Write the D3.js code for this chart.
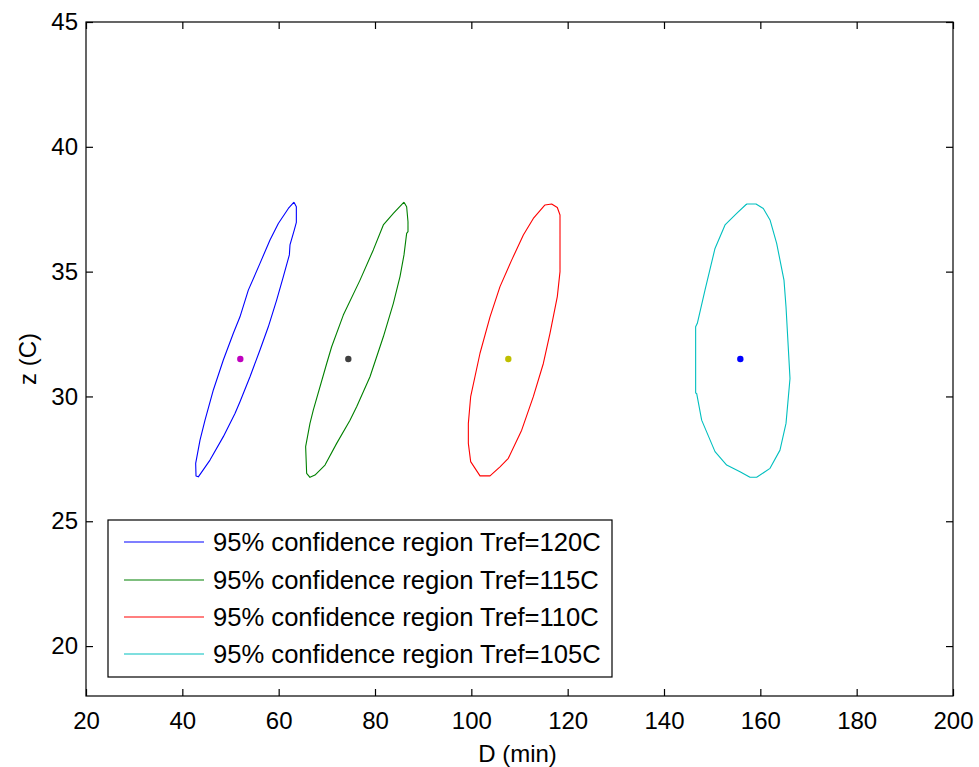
<!DOCTYPE html>
<html>
<head>
<meta charset="utf-8">
<script src="https://cdn.jsdelivr.net/npm/d3@7"></script>
<style>
  body { margin: 0; background: #fff; }
  svg { display: block; font-family: Arial, "Liberation Sans", sans-serif; }
</style>
</head>
<body>
<svg id="chart" width="979" height="767"></svg>
<script>
// ---- Data (D in min, z in C) ----
const seriesNames = ["95% confidence region Tref=120C", "95% confidence region Tref=115C", "95% confidence region Tref=110C", "95% confidence region Tref=105C"];
const lineColors = ["#0000ff", "#008000", "#ff0000", "#00bfbf"];
const centerColors = ["#bf00bf", "#404040", "#bfbf00", "#0000ff"];

const region120 = [[63.18,37.78],[63.67,37.60],[63.67,36.97],[63.25,36.67],[62.35,36.07],[62.22,35.67],[60.97,34.80],[59.58,33.86],[57.85,32.79],[56.12,31.86],[54.05,30.79],[51.97,29.79],[50.93,29.32],[48.51,28.39],[45.74,27.45],[43.32,26.78],[42.84,26.81],[42.77,27.32],[43.67,28.25],[44.71,29.05],[46.44,30.26],[48.51,31.46],[50.59,32.53],[51.97,33.19],[53.70,34.26],[56.12,35.33],[58.20,36.27],[59.93,36.93],[62.01,37.53],[63.18,37.78]];
const region115 = [[86.02,37.78],[86.57,37.60],[86.85,37.00],[86.85,36.60],[86.57,36.53],[86.02,35.67],[85.19,34.80],[83.81,33.73],[81.73,32.39],[78.96,30.79],[76.19,29.59],[74.81,29.05],[72.04,28.12],[69.62,27.25],[67.54,26.85],[66.50,26.76],[65.81,26.92],[65.60,27.99],[66.50,28.92],[67.20,29.46],[69.97,31.32],[71.00,31.99],[73.42,33.26],[76.89,34.66],[79.65,35.87],[81.73,36.87],[83.81,37.33],[86.02,37.78]];
const region110 = [[115.29,37.67],[116.68,37.71],[117.85,37.57],[118.41,37.27],[118.41,35.00],[117.85,34.00],[116.33,32.53],[114.95,31.32],[112.87,29.99],[110.45,28.65],[107.68,27.52],[105.95,27.18],[103.88,26.82],[101.80,26.82],[99.86,27.39],[99.38,28.12],[99.38,28.92],[99.86,29.99],[101.80,31.73],[103.88,33.19],[105.95,34.40],[108.37,35.46],[110.80,36.47],[112.87,37.13],[115.29,37.67]];
const region105 = [[157.16,37.71],[159.10,37.71],[160.62,37.53],[162.01,37.07],[163.39,36.13],[164.91,34.66],[165.33,33.59],[166.16,30.72],[165.33,28.92],[164.08,27.85],[162.01,27.12],[159.24,26.76],[157.85,26.76],[155.78,26.98],[153.01,27.25],[150.59,27.79],[147.82,29.05],[146.78,30.12],[146.57,30.14],[146.57,32.79],[146.92,32.93],[148.51,34.26],[150.59,35.93],[152.67,36.87],[155.09,37.33],[157.16,37.71]];
const regions = [region120, region115, region110, region105];
const centers = [[52.04,31.5],[74.46,31.5],[107.68,31.5],[155.85,31.5]];

const xTicks = [20,40,60,80,100,120,140,160,180,200];
const yTicks = [20,25,30,35,40,45];
const xDomain = [20, 200];
const yDomain = [18, 45];

// ---- Layout ----
const svg = d3.select("#chart");
const L = 86, R = 953, T = 22, B = 696;
const x = d3.scaleLinear().domain(xDomain).range([L, R]);
const y = d3.scaleLinear().domain(yDomain).range([B, T]);
const fs = 24;
const tickLen = 7;

// axes box
svg.append("rect").attr("x", L).attr("y", T).attr("width", R - L).attr("height", B - T)
  .attr("fill", "none").attr("stroke", "#000").attr("stroke-width", 1.2);

const axB = svg.append("g").attr("transform", `translate(0,${B})`)
  .call(d3.axisBottom(x).tickValues(xTicks).tickSizeInner(-tickLen).tickSizeOuter(0).tickPadding(16));
const axT = svg.append("g").attr("transform", `translate(0,${T})`)
  .call(d3.axisTop(x).tickValues(xTicks).tickSizeInner(-tickLen).tickSizeOuter(0).tickFormat(""));
const axL = svg.append("g").attr("transform", `translate(${L},0)`)
  .call(d3.axisLeft(y).tickValues(yTicks).tickSizeInner(-tickLen).tickSizeOuter(0).tickPadding(8));
const axR = svg.append("g").attr("transform", `translate(${R},0)`)
  .call(d3.axisRight(y).tickValues(yTicks).tickSizeInner(-tickLen).tickSizeOuter(0).tickFormat(""));
[axB, axT, axL, axR].forEach(g => {
  g.select(".domain").remove();
  g.selectAll(".tick line").attr("stroke", "#000").attr("stroke-width", 1.2);
  g.selectAll("text").attr("font-size", fs).attr("fill", "#000")
    .attr("font-family", "Arial, 'Liberation Sans', sans-serif");
});

// axis labels
svg.append("text").attr("x", (L + R) / 2 - 2).attr("y", 762).attr("text-anchor", "middle")
  .attr("font-size", fs).text("D (min)");
svg.append("text").attr("transform", `translate(36,${(T + B) / 2}) rotate(-90)`)
  .attr("text-anchor", "middle").attr("font-size", fs).text("z (C)");

// contours
const line = d3.line().x(d => x(d[0])).y(d => y(d[1]));
regions.forEach((r, i) => {
  svg.append("path").attr("d", line(r)).attr("fill", "none")
    .attr("stroke", lineColors[i]).attr("stroke-width", 1.1).attr("stroke-linejoin", "round");
});
centers.forEach((c, i) => {
  svg.append("circle").attr("cx", x(c[0])).attr("cy", y(c[1])).attr("r", 3.2)
    .attr("fill", centerColors[i]);
});

// legend
const lg = svg.append("g");
lg.append("rect").attr("x", 108).attr("y", 520).attr("width", 504).attr("height", 157)
  .attr("fill", "#fff").attr("stroke", "#000").attr("stroke-width", 1.2);
const rowY = [542, 580, 617, 654];
seriesNames.forEach((n, i) => {
  lg.append("line").attr("x1", 124).attr("x2", 204).attr("y1", rowY[i]).attr("y2", rowY[i])
    .attr("stroke", lineColors[i]).attr("stroke-width", 1.1);
  lg.append("text").attr("x", 213).attr("y", rowY[i]).attr("dy", "0.35em")
    .attr("font-size", 25.6).text(n);
});
</script>
</body>
</html>
